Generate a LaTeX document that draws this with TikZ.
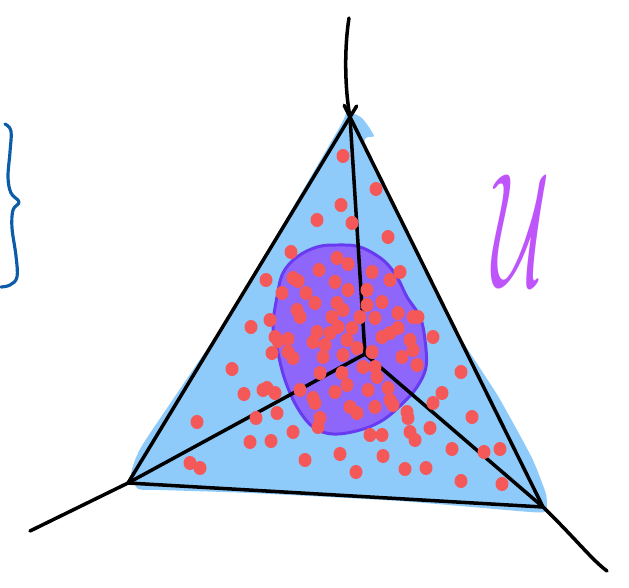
\documentclass[tikz,border=0pt]{standalone}
\usepackage{amsmath, amssymb}
\usepackage{xcolor}
\usepackage{tikz}
\usetikzlibrary{calc}
\definecolor{simplexblue}{RGB}{143, 203, 250}
\definecolor{blobviolet}{RGB}{143, 102, 250}
\definecolor{blobedge}{RGB}{104, 58, 240}
\definecolor{samplered}{RGB}{245, 88, 88}
\definecolor{braceblue}{RGB}{12, 92, 170}
\definecolor{labelpurple}{RGB}{190, 85, 250}

\begin{document}
\begin{tikzpicture}[x=0.02cm, y=-0.02cm, line cap=round, line join=round,
    edge/.style={black, line width=2pt},
    sample/.style={samplered}]
    \useasboundingbox (0,0) rectangle (629,588);

    % Corners of the simplex and free ends of the rays
    \coordinate (top) at (350,117);
    \coordinate (left) at (128,483);
    \coordinate (right) at (543,507);
    \coordinate (mid) at (365,354);
    \coordinate (topEnd) at (349,18);
    \coordinate (leftEnd) at (30,531);
    \coordinate (rightEnd) at (607,571);

    % Shaded simplex
    \fill[simplexblue] plot[smooth cycle, tension=0.3] coordinates {
        (347,112) (362,118) (374,136) (366,148) (450,320) (498,396)
        (532,458) (546,494) (546,511) (530,512) (400,501) (250,493)
        (160,490) (138,489) (131,474) (143,444) (230,314) (338,130)};

    % Inner region
    \fill[blobviolet, draw=blobedge, line width=1.7pt] plot[smooth cycle, tension=0.6] coordinates {
        (337,245) (360,247) (383,260) (397,277) (407,297) (420,317)
        (425,340) (426,367) (417,387) (403,403) (383,420) (360,430)
        (333,434) (313,427) (297,407) (285,380) (278,353) (273,327)
        (277,297) (283,273) (297,257) (317,247)};

    % Edges and rays
    \draw[edge] (left) -- ($(left)!1.03!(top)$);
    \draw[edge] (right) -- ($(right)!1.03!(top)$);
    \draw[edge] (left) -- (right);
    \draw[edge] (top) -- (mid);
    \draw[edge] (mid) -- (left);
    \draw[edge] (mid) -- (right);
    \draw[edge] (topEnd) .. controls (344,50) and (345,90) .. (top);
    \draw[edge] (left) -- (leftEnd);
    \draw[edge] (right) .. controls (575,538) and (592,560) .. (rightEnd);

    % Samples
    \foreach \p in {(343,156), (376,189), (341,205), (317,220), (352,223), (388,237),
        (291,252), (266,280), (293,278), (298,281), (282,293), (306,293), (297,310),
        (300,317), (270,320), (251,327), (275,337), (278,341), (288,339), (272,353),
        (288,352), (293,358), (232,369), (337,258), (348,264), (319,270), (372,272),
        (400,272), (390,280), (335,282), (348,290), (367,290), (315,303), (337,303),
        (367,305), (382,302), (343,310), (332,317), (360,317), (375,318), (398,313),
        (413,317), (418,317), (338,327), (352,328), (317,332), (330,333), (382,337),
        (390,333), (398,328), (410,340), (433,337), (347,340), (313,342), (325,345),
        (357,348), (372,352), (343,355), (323,357), (413,350), (402,357), (417,365),
        (363,367), (375,367), (320,373), (377,377), (342,373), (300,390), (335,392),
        (347,385), (368,390), (388,388), (313,398), (315,403), (390,400), (393,405),
        (350,407), (357,413), (375,407), (320,418), (318,427), (407,412), (408,418),
        (267,388), (275,393), (277,413), (293,432), (370,435), (382,435), (410,432),
        (433,403), (430,428), (244,394), (263,390), (197,422), (256,418), (250,442),
        (271,441), (305,460), (340,454), (190,463), (200,468), (461,372), (442,393),
        (472,417), (415,440), (452,449), (484,452), (500,449), (383,456), (356,472),
        (405,469), (426,468), (461,481), (502,484)}
        \fill[sample] \p ellipse [x radius=6.5, y radius=7];

    % Brace on the left
    \draw[braceblue, line width=1.8pt] plot[smooth, tension=0.6] coordinates {
        (5,124) (11,131) (10,152) (8,177) (11,193) (19,202) (13,210)
        (12,228) (16,256) (17,277) (10,285) (1,287)};

    % Label
    \node[labelpurple, font=\Huge, xscale=1.8, yscale=3.7] (ulabel) at (521,230) {$\mathcal{U}$};
\end{tikzpicture}
\end{document}
